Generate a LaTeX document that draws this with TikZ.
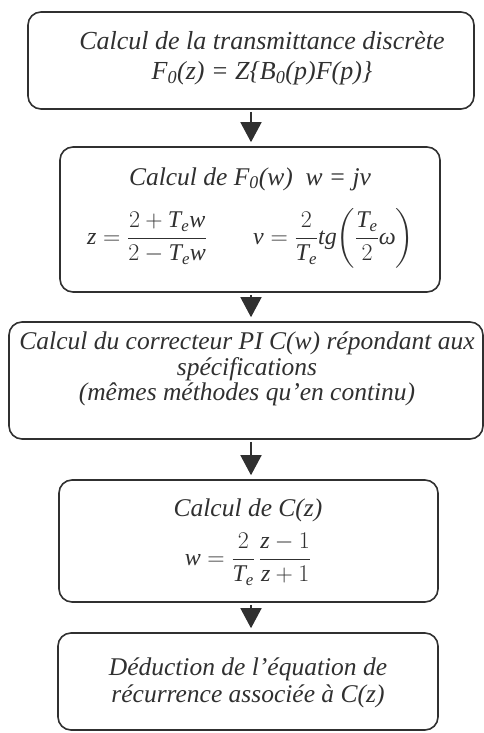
\documentclass[tikz,border=0pt]{standalone}
\usepackage{fix-cm}
\usepackage{amsmath}
\usepackage{fontspec}
\setmainfont{Liberation Serif}
\setmathrm{Liberation Serif}
\usetikzlibrary{arrows.meta}
\newcommand{\mi}[1]{\mathit{#1}}
\newcommand{\Te}{\mi{T}_{\mi{e}}}
\definecolor{ink}{HTML}{303030}
\begin{document}
\begin{tikzpicture}[x=1pt,y=-1pt,
  box/.style={draw=ink, line width=1.6pt, rounded corners=13pt, inner sep=0pt},
  txt/.style={inner sep=0pt, anchor=base, text=ink, font=\fontsize{25.5}{30}\selectfont\itshape},
  mth/.style={inner sep=0pt, anchor=base west, text=ink, font=\fontsize{24}{28}\selectfont},
  flow/.style={draw=ink, line width=1.5pt, shorten >=4pt, shorten <=2pt,
               -{Triangle[width=21pt,length=20pt]}}]
\useasboundingbox (0,0) rectangle (484,733);
\coordinate (ax) at (251,0);
% boxes
\node[box, minimum width=446pt, minimum height=97pt]  (b1) at (251,60.5) {};
\node[box, minimum width=380pt, minimum height=145pt] (b2) at (250,219.5) {};
\node[box, minimum width=474pt, minimum height=117pt] (b3) at (246,380.5) {};
\node[box, minimum width=379pt, minimum height=122pt] (b4) at (248.5,541) {};
\node[box, minimum width=380pt, minimum height=97pt]  (b5) at (248,681.5) {};
% texts
\node[txt, font=\fontsize{26}{30}\selectfont\itshape] (t1a) at (262,50) {Calcul de la transmittance discrète};
\node[txt, font=\fontsize{26}{30}\selectfont\itshape] (t1b) at (262,80) {F\textsubscript{0}(z) = Z\{B\textsubscript{0}(p)F(p)\}};
\node[txt] (t2a) at (250,185) {Calcul de F\textsubscript{0}(w)\enspace w = jv};
\node[mth] (m2a) at (87,244) {$\displaystyle \mi{z}=\frac{2+\Te\mi{w}}{2-\Te\mi{w}}$};
\node[mth] (m2b) at (253,244) {$\displaystyle \mi{v}=\frac{2}{\Te}\mi{tg}\!\left(\frac{\Te}{2}\mi{ω}\right)$};
\node[txt] (t3a) at (247,349) {Calcul du correcteur PI C(w) répondant aux};
\node[txt] (t3b) at (247,375) {spécifications};
\node[txt] (t3c) at (247,400) {(mêmes méthodes qu’en continu)};
\node[txt] (t4a) at (248,516) {Calcul de C(z)};
\node[mth, anchor=base] (m4) at (248,565) {$\displaystyle \mi{w}=\frac{2}{\Te}\,\frac{\mi{z}-1}{\mi{z}+1}$};
\node[txt] (t5a) at (248,675) {Déduction de l’équation de};
\node[txt] (t5b) at (248,702) {récurrence associée à C(z)};
% arrows
\draw[flow] (b1.south -| ax) -- (b2.north -| ax);
\draw[flow] (b2.south -| ax) -- (b3.north -| ax);
\draw[flow] (b3.south -| ax) -- (b4.north -| ax);
\draw[flow] (b4.south -| ax) -- (b5.north -| ax);
\end{tikzpicture}
\end{document}
